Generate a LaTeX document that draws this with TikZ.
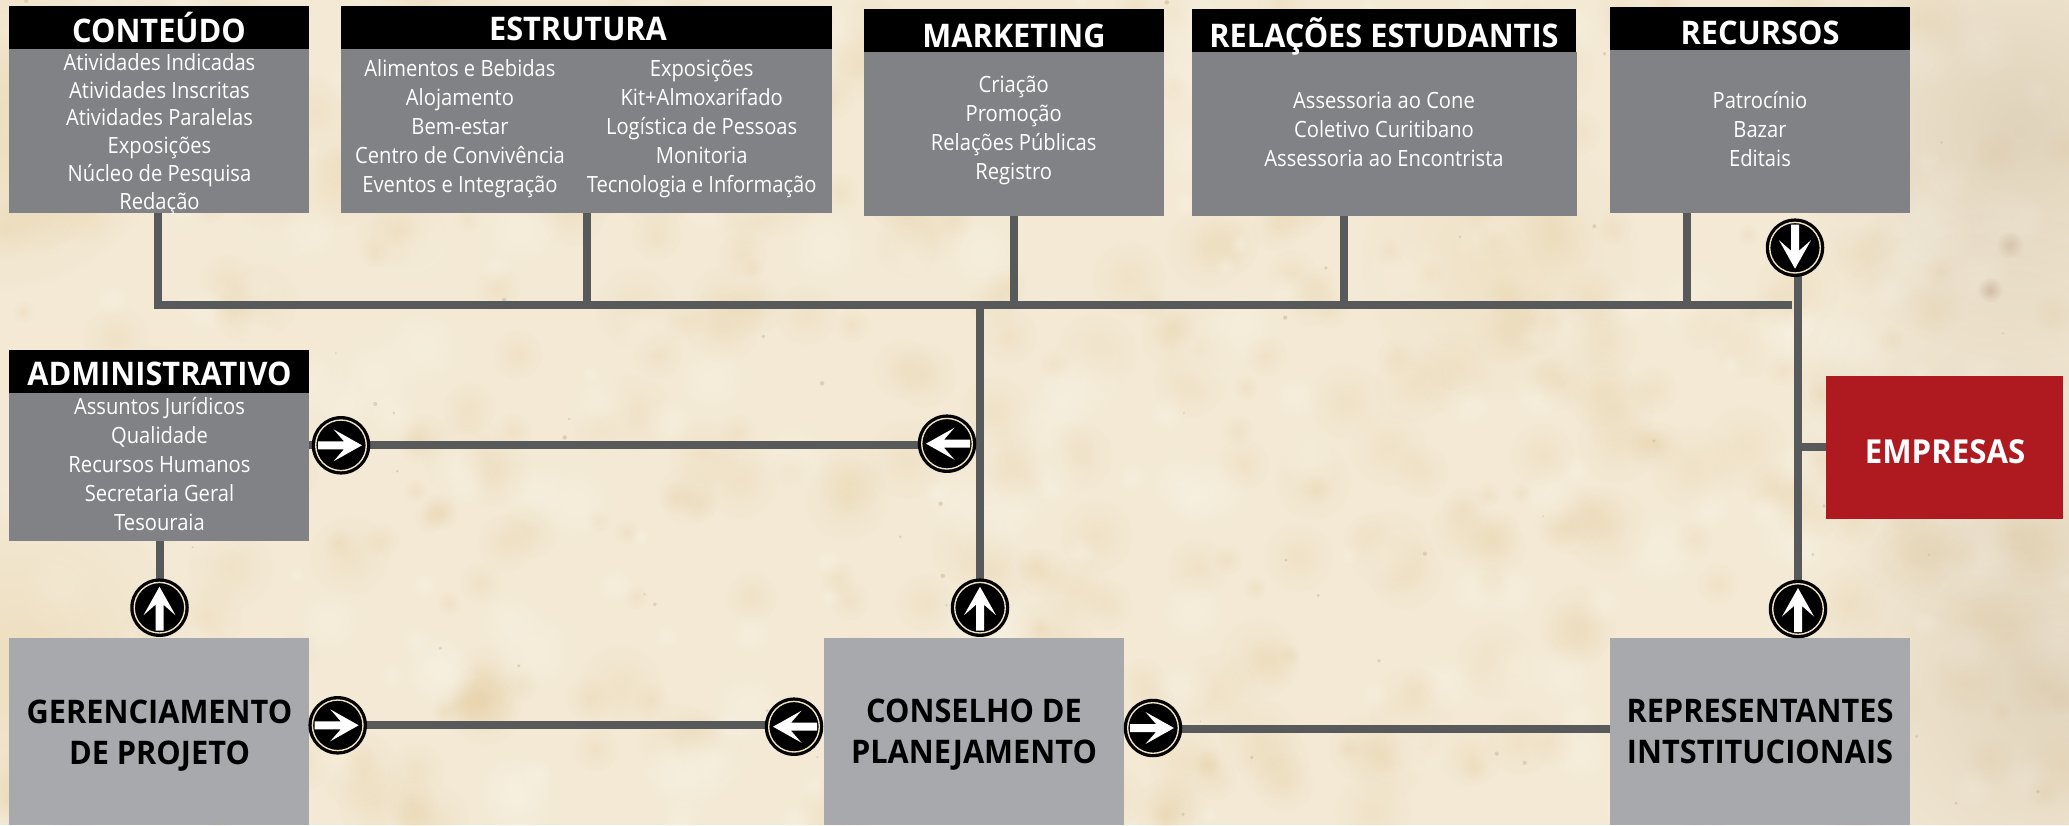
\documentclass[tikz,border=0pt]{standalone}
\usepackage{fontspec}
\usetikzlibrary{fadings}
\setmainfont{Open Sans}
\newfontfamily\bodyf{Open Sans}[FakeStretch=0.9]
\newfontfamily\headf{Open Sans}[FakeStretch=0.945]
\definecolor{paper}{HTML}{F3E9D4}
\definecolor{tan}{HTML}{E3C692}
\definecolor{pale}{HTML}{FAF5E8}
\definecolor{stain}{HTML}{B5A083}
\definecolor{rust}{HTML}{B08A70}
\definecolor{linec}{HTML}{58595B}
\definecolor{bodyc}{HTML}{808285}
\definecolor{lightc}{HTML}{A7A9AC}
\definecolor{redc}{HTML}{AF1A20}
\definecolor{ringc}{HTML}{EFE0C0}
\tikzfading[name=softspot,inner color=transparent!0,outer color=transparent!100]
\tikzset{
  headbox/.style={fill=black,inner sep=0pt,anchor=north west},
  bodybox/.style={fill=bodyc,inner sep=0pt,anchor=north west},
  mainbox/.style={fill=lightc,inner sep=0pt,anchor=north west},
  redbox/.style={fill=redc,inner sep=0pt,anchor=north west},
  titletext/.style={text=white,inner sep=0pt,font=\headf\bfseries\fontsize{32.5}{36}\selectfont},
  listtext/.style={text=white,inner sep=0pt,align=center,font=\bodyf\fontsize{22.4}{29}\selectfont},
  mainlabel/.style={text=black,inner sep=0pt,align=center,font=\headf\bfseries\fontsize{32.5}{41}\selectfont},
  conn/.style={draw=linec,line width=8pt,line cap=butt,line join=miter},
  disc/.style={circle,fill=black,minimum size=58.5pt,inner sep=0pt},
  ring/.style={draw=ringc,line width=1.4pt},
}
\newcommand{\dirdisc}[3]{%
  \node[disc] (#1) at (#2) {};
  \begin{scope}[shift={(#1.center)},rotate=#3]
    \draw[ring] (0,0) circle (25.3pt);
    \fill[white] (-23,-4) -- (3,-4) -- (-7.5,-16) -- (21,0) -- (-7.5,16) -- (3,4) -- (-23,4) -- cycle;
  \end{scope}}
\begin{document}
\begin{tikzpicture}[x=1pt,y=-1pt]
\useasboundingbox (0,0) rectangle (2069,825);
\begin{scope}
  \clip (0,0) rectangle (2069,825);
  \fill[paper] (0,0) rectangle (2069,825);
  \pgfmathsetseed{4217}
  \foreach \i in {1,...,420}{
    \pgfmathsetmacro{\px}{rnd*2069}
    \pgfmathsetmacro{\py}{rnd*825}
    \pgfmathsetmacro{\pr}{10+rnd*34}
    \fill[tan,path fading=softspot,opacity=.2] (\px,\py) circle (\pr pt);
  }
  \foreach \i in {1,...,260}{
    \pgfmathsetmacro{\px}{rnd*2069}
    \pgfmathsetmacro{\py}{rnd*825}
    \pgfmathsetmacro{\pr}{10+rnd*40}
    \fill[pale,path fading=softspot,opacity=.4] (\px,\py) circle (\pr pt);
  }
  \foreach \i in {1,...,70}{
    \pgfmathsetmacro{\px}{rnd*2069}
    \pgfmathsetmacro{\py}{rnd*825}
    \pgfmathsetmacro{\pr}{0.8+rnd*1.6}
    \fill[stain,opacity=.35] (\px,\py) circle (\pr pt);
  }
  \fill[stain,path fading=softspot,opacity=.3] (2020,130) circle (230pt);
  \fill[stain,path fading=softspot,opacity=.28] (2045,690) circle (240pt);
  \fill[stain,path fading=softspot,opacity=.16] (2000,420) circle (210pt);
  \fill[tan,path fading=softspot,opacity=.32] (0,120) circle (170pt);
  \fill[tan,path fading=softspot,opacity=.3] (20,660) circle (170pt);
  \fill[tan,path fading=softspot,opacity=.22] (1500,260) circle (140pt);
  \fill[rust,path fading=softspot,opacity=.4] (1990,290) circle (13pt);
  \fill[rust,path fading=softspot,opacity=.3] (2010,245) circle (14pt);
\end{scope}

% boxes
\node[headbox,minimum width=300pt,minimum height=43pt] (conH) at (9,6) {};
\node[bodybox,minimum width=300pt,minimum height=164pt] (conB) at (9,49) {};
\node[headbox,minimum width=491pt,minimum height=43pt] (estH) at (341,6) {};
\node[bodybox,minimum width=491pt,minimum height=164pt] (estB) at (341,49) {};
\node[headbox,minimum width=300pt,minimum height=43pt] (mktH) at (864,9) {};
\node[bodybox,minimum width=300pt,minimum height=164pt] (mktB) at (864,52) {};
\node[headbox,minimum width=384pt,minimum height=43pt] (relH) at (1192,9) {};
\node[bodybox,minimum width=385pt,minimum height=164pt] (relB) at (1192,52) {};
\node[headbox,minimum width=300pt,minimum height=43pt] (recH) at (1610,7) {};
\node[bodybox,minimum width=300pt,minimum height=163pt] (recB) at (1610,50) {};
\node[headbox,minimum width=300pt,minimum height=43pt] (admH) at (9,350) {};
\node[bodybox,minimum width=300pt,minimum height=148pt] (admB) at (9,393) {};
\node[mainbox,minimum width=300pt,minimum height=187pt] (gerB) at (9,638) {};
\node[mainbox,minimum width=300pt,minimum height=187pt] (plaB) at (824,638) {};
\node[mainbox,minimum width=300pt,minimum height=187pt] (repB) at (1610,638) {};
\node[redbox,minimum width=237pt,minimum height=143pt] (empB) at (1826,376) {};

% connector anchors
\coordinate (busL) at (158,304.5);
\coordinate (busR) at (1792,304.5);
\coordinate (sCon) at (158,213);
\coordinate (sEst) at (586.7,213);
\coordinate (sMkt) at (1013.5,216);
\coordinate (sRel) at (1344,216);
\coordinate (sRec) at (1687,213);
\coordinate (trunkT) at (980,304.5);
\coordinate (vertT) at (1798,247.7);
\coordinate (vertB) at (1798,609);
\coordinate (vertE) at (1798,447.3);
\coordinate (admE) at (309,445.3);
\coordinate (admTip) at (947,445.3);
\coordinate (gerE) at (309,725.3);
\coordinate (plaTip) at (794,725.3);
\coordinate (repW) at (1610,729.3);
\coordinate (plaE) at (1153,729.3);
\coordinate (admS) at (159.5,541);

% connectors
\draw[conn] (sCon) |- (busR);
\draw[conn] (sEst) -- (sEst |- busL);
\draw[conn] (sMkt) -- (sMkt |- busL);
\draw[conn] (sRel) -- (sRel |- busL);
\draw[conn] (sRec) -- (sRec |- busL);
\draw[conn] (vertT) -- (vertB);
\draw[conn] (vertE) -- (vertE -| empB.west);
\draw[conn] (trunkT) -- (980,607.7);
\draw[conn] (admE) -- (admTip);
\draw[conn] (admS) -- (159.5,607.7);
\draw[conn] (gerE) -- (plaTip);
\draw[conn] (plaE) -- (repW);

% direction discs
\dirdisc{dRecD}{1795,247.7}{-90}
\dirdisc{dRepU}{1798,609}{90}
\dirdisc{dPlaU}{980,607.7}{90}
\dirdisc{dAdmU}{159.5,607.7}{90}
\dirdisc{dAdmR}{341,445.3}{0}
\dirdisc{dTrkL}{947,443.7}{180}
\dirdisc{dGerR}{337.7,725.3}{0}
\dirdisc{dPlaL}{794,726.7}{180}
\dirdisc{dPlaR}{1153,728}{0}

% titles
\node[titletext] (tCon) at (159,27.5) {CONTEÚDO};
\node[titletext] (tEst) at (578,29) {ESTRUTURA};
\node[titletext] (tMkt) at (1014,36) {MARKETING};
\node[titletext] (tRel) at (1384,36) {RELAÇÕES ESTUDANTIS};
\node[titletext] (tRec) at (1760,33) {RECURSOS};
\node[titletext] (tAdm) at (159.5,374) {ADMINISTRATIVO};
\node[titletext,font=\headf\bfseries\fontsize{33}{36}\selectfont] (tEmp) at (1945,451.7) {EMPRESAS};

% lists
\node[listtext,font=\bodyf\fontsize{22.4}{27.7}\selectfont] (lCon) at (159.5,134) {Atividades Indicadas\\Atividades Inscritas\\Atividades Paralelas\\Exposições\\Núcleo de Pesquisa\\Redação};
\node[listtext] (lEstA) at (460,129) {Alimentos e Bebidas\\Alojamento\\Bem-estar\\Centro de Convivência\\Eventos e Integração};
\node[listtext] (lEstB) at (701.7,129) {Exposições\\Kit+Almoxarifado\\Logística de Pessoas\\Monitoria\\Tecnologia e Informação};
\node[listtext] (lMkt) at (1013.7,130.8) {Criação\\Promoção\\Relações Públicas\\Registro};
\node[listtext] (lRel) at (1384,129.7) {Assessoria ao Cone\\Coletivo Curitibano\\Assessoria ao Encontrista};
\node[listtext] (lRec) at (1760,128.7) {Patrocínio\\Bazar\\Editais};
\node[listtext] (lAdm) at (159.5,463.7) {Assuntos Jurídicos\\Qualidade\\Recursos Humanos\\Secretaria Geral\\Tesouraia};

% main labels
\node[mainlabel] (mGer) at (159.5,735.5) {GERENCIAMENTO\\DE PROJETO};
\node[mainlabel] (mPla) at (974,734.5) {CONSELHO DE\\PLANEJAMENTO};
\node[mainlabel] (mRep) at (1760,731) {REPRESENTANTES\\INTSTITUCIONAIS};
\end{tikzpicture}
\end{document}
